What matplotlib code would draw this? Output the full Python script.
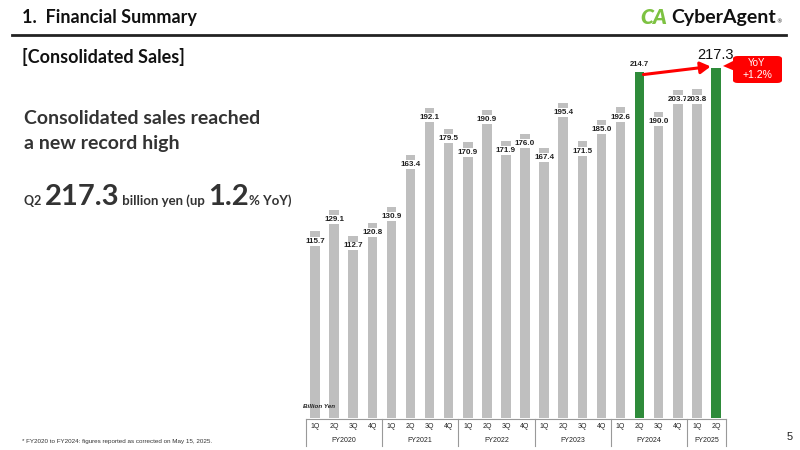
import matplotlib
matplotlib.use("Agg")
import matplotlib.pyplot as plt
from matplotlib.patches import FancyBboxPatch, Polygon
from matplotlib.lines import Line2D

# data
quarters = ["1Q", "2Q", "3Q", "4Q"] * 5 + ["1Q", "2Q"]
years = ["FY2020", "FY2021", "FY2022", "FY2023", "FY2024", "FY2025"]
year_sizes = [4, 4, 4, 4, 4, 2]
sales = [115.7, 129.1, 112.7, 120.8,
         130.9, 163.4, 192.1, 179.5,
         170.9, 190.9, 171.9, 176.0,
         167.4, 195.4, 171.5, 185.0,
         192.6, 214.7, 190.0, 203.7,
         203.8, 217.3]
green_idx = [17, 21]

GREY = "#BFBFBF"
GREEN = "#2E8B3A"
FONT = ["Lato", "DejaVu Sans"]
NUMFONT = ["Liberation Sans", "DejaVu Sans"]

W, H = 800, 450
fig = plt.figure(figsize=(8, 4.5), dpi=100)


def fx(px):
    return px / W


def fy(py):
    return 1 - py / H


# header
fig.text(fx(22), fy(18), "1.  Financial Summary", fontsize=13, fontweight="bold",
         family=FONT, color="#111111", va="center")
fig.add_artist(Line2D([fx(12), fx(786)], [fy(35), fy(35)], color="#222222", lw=2))
fig.text(fx(22), fy(57), "[Consolidated Sales]", fontsize=13, fontweight="bold",
         family=FONT, color="#111111", va="center")

# logo
fig.text(fx(640), fy(18), "CA", fontsize=15, fontweight="heavy", color="#7DC242",
         family=FONT, va="center", style="italic")
fig.text(fx(671), fy(18), "CyberAgent", fontsize=14, fontweight="bold", color="#111111",
         family=FONT, va="center")
fig.text(fx(776), fy(22), "®", fontsize=4, color="#111111", va="center")

# left message
fig.text(fx(24), fy(118), "Consolidated sales reached", fontsize=14, fontweight="bold",
         family=FONT, color="#333333", va="center")
fig.text(fx(24), fy(143), "a new record high", fontsize=14, fontweight="bold",
         family=FONT, color="#333333", va="center")

renderer = fig.canvas.get_renderer()
parts = [("Q2 ", 9), ("217.3", 21), (" billion yen (up ", 9.5), ("1.2", 21), ("% YoY)", 9.5)]
x = 24
for txt, size in parts:
    t = fig.text(fx(x), fy(205), txt, fontsize=size, fontweight="bold", family=FONT,
                 color="#333333", va="baseline")
    x += t.get_window_extent(renderer).width

# chart
ax = fig.add_axes([fx(305.5), fy(418), fx(420), 387 / H])
idx = list(range(len(sales)))
colors = [GREEN if i in green_idx else GREY for i in idx]
ax.bar(idx, sales, width=0.5, color=colors, zorder=2)
ax.set_xlim(-0.5, len(sales) - 0.5)
ax.set_ylim(0, 240)
ax.axis("off")

for i, v in enumerate(sales):
    if i == len(sales) - 1:
        ax.annotate(f"{v:.1f}", (i, v), xytext=(0, 4), textcoords="offset points",
                    ha="center", va="bottom", fontsize=10.5, family=NUMFONT, color="#111111")
    elif i in green_idx:
        ax.annotate(f"{v:.1f}", (i, v), xytext=(0, 3), textcoords="offset points",
                    ha="center", va="bottom", fontsize=5.5, fontweight="bold",
                    family=NUMFONT, color="#222222")
    else:
        ax.annotate(f"{v:.1f}", (i, v), xytext=(0, -7), textcoords="offset points",
                    ha="center", va="center", fontsize=5.8, fontweight="bold",
                    family=NUMFONT, color="#222222", zorder=3,
                    bbox=dict(boxstyle="square,pad=0.12", fc="white", ec="none"))

# growth arrow
ax.annotate("", xy=(20.72, 218), xytext=(17.2, 213),
            arrowprops=dict(arrowstyle="-|>,head_length=0.6,head_width=0.35",
                            color="#FF0000", lw=2.2, shrinkA=0, shrinkB=0),
            annotation_clip=False, zorder=4)

# YoY call-out
box = FancyBboxPatch((fx(733), fy(83)), fx(49), 27 / H,
                     boxstyle="round,pad=0,rounding_size=0.006",
                     transform=fig.transFigure, fc="#FF0000", ec="none")
fig.add_artist(box)
fig.add_artist(Polygon([[fx(735), fy(60)], [fx(735), fy(71)], [fx(723), fy(66)]],
                       closed=True, transform=fig.transFigure, fc="#FF0000", ec="none"))
fig.text(fx(757), fy(63), "YoY", fontsize=7, color="white", ha="center", va="center",
         family=NUMFONT)
fig.text(fx(757), fy(75), "+1.2%", fontsize=7.5, color="white", ha="center", va="center",
         family=NUMFONT)

# category table below bars
ax.text(-0.63, 11 / 387, "Billion Yen", transform=ax.get_xaxis_transform(), fontsize=4.5,
        fontweight="bold", style="italic", family=NUMFONT, color="#222222", va="center")
ty_top = -1 / 387
ty_bot = -28 / 387
ax.plot([-0.5, len(sales) - 0.5], [ty_top, ty_top], transform=ax.get_xaxis_transform(),
        color="#999999", lw=0.8, clip_on=False)
for i, q in enumerate(quarters):
    ax.text(i, -9 / 387, q, transform=ax.get_xaxis_transform(), ha="center", va="center",
            fontsize=5, family=NUMFONT, color="#222222")
start = 0
edges = [-0.5]
for y, n in zip(years, year_sizes):
    mid = start + (n - 1) / 2
    ax.text(mid, -22 / 387, y, transform=ax.get_xaxis_transform(), ha="center",
            va="center", fontsize=5, family=NUMFONT, color="#222222")
    start += n
    edges.append(start - 0.5)
for e in edges:
    ax.plot([e, e], [ty_top, ty_bot], transform=ax.get_xaxis_transform(),
            color="#999999", lw=0.8, clip_on=False)

# footnote and page
fig.text(fx(22), fy(441), "* FY2020 to FY2024: figures reported as corrected on May 15, 2025.",
         fontsize=4.5, family=NUMFONT, color="#333333", va="center")
fig.text(fx(790), fy(437), "5", fontsize=8, family=NUMFONT, color="#222222",
         ha="center", va="center")

fig.savefig("out.png", dpi=100)
